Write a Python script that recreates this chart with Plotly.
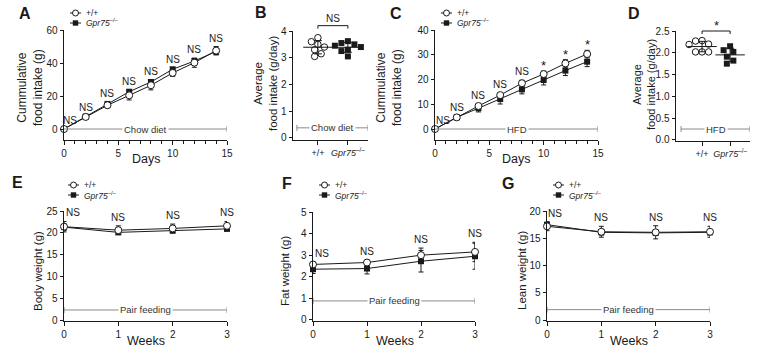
import numpy as np
import plotly.graph_objects as go

W, H = 768, 349
FONT = "Liberation Sans, Arial, Helvetica, sans-serif"
INK = "#1a1a1a"
GRAY = "#8a8a8a"

# ---------------- data ----------------
days = [0, 2, 4, 6, 8, 10, 12, 14]
chow_wt = [0, 7.3, 14.4, 20.4, 26.5, 34.0, 40.2, 47.5]
chow_wt_err = [0, 0.8, 1.5, 2.8, 2.8, 2.2, 2.8, 2.5]
chow_ko = [0, 7.5, 15.2, 22.6, 28.5, 36.2, 41.2, 47.0]
chow_ko_err = [0, 0.5, 1.0, 1.2, 1.0, 1.0, 1.5, 2.0]
chow_sig = ["NS", "NS", "NS", "NS", "NS", "NS", "NS", "NS"]

avg_chow_wt = [3.75, 3.6, 3.5, 3.4, 3.3, 3.15, 3.05]
avg_chow_ko = [3.62, 3.55, 3.5, 3.45, 3.4, 3.3, 3.25, 3.05]
avg_chow_sig = "NS"

hfd_wt = [0, 4.7, 9.3, 13.7, 18.5, 22.2, 26.5, 30.3]
hfd_wt_err = [0, 0.4, 1.0, 1.0, 1.2, 1.2, 1.5, 1.5]
hfd_ko = [0, 4.7, 8.4, 12.1, 16.0, 19.8, 23.6, 27.2]
hfd_ko_err = [0, 0.4, 1.5, 2.0, 1.8, 2.0, 2.0, 2.0]
hfd_sig = ["NS", "NS", "NS", "NS", "NS", "*", "*", "*"]

avg_hfd_wt = [2.28, 2.27, 2.2, 2.19, 2.02, 2.02, 2.02]
avg_hfd_ko = [2.15, 2.06, 2.02, 1.91, 1.82, 1.75]
avg_hfd_sig = "*"

weeks = [0, 1, 2, 3]
bw_wt = [21.4, 20.6, 21.0, 21.6]
bw_wt_err = [1.2, 1.0, 1.0, 1.0]
bw_ko = [21.3, 20.1, 20.5, 20.9]
bw_ko_err = [0.8, 0.5, 0.5, 0.5]
fat_wt = [2.57, 2.66, 3.0, 3.15]
fat_wt_err = [0.1, 0.1, 0.33, 0.45]
fat_ko = [2.35, 2.38, 2.72, 2.95]
fat_ko_err = [0.2, 0.25, 0.5, 0.6]
lean_wt = [17.2, 16.2, 16.1, 16.2]
lean_wt_err = [0.8, 1.0, 1.2, 1.0]
lean_ko = [17.5, 16.1, 16.0, 16.1]
lean_ko_err = [0.5, 0.5, 0.5, 0.5]
pair_sig = ["NS", "NS", "NS", "NS"]

group_labels = ["+/+", "<i>Gpr75</i><sup>–/–</sup>"]

# ---------------- panel geometry (pixels) ----------------
PANELS = {
    "A": dict(ax=1, x0=64, x1=227, y0=30, y1=140, xr=[0, 15], yr=[-6.67, 60], xd=5, yd=20, minor=True),
    "B": dict(ax=2, x0=293, x1=368, y0=31, y1=140, xr=[0.17, 2.67], yr=[-0.075, 4], yd=1),
    "C": dict(ax=3, x0=435, x1=598, y0=30, y1=140, xr=[0, 15], yr=[-4.44, 40], xd=5, yd=10, minor=True),
    "D": dict(ax=4, x0=676, x1=750, y0=31, y1=141, xr=[0.07, 2.71], yr=[-0.025, 2.5], yd=0.5, yfmt=".1f"),
    "E": dict(ax=5, x0=64, x1=227, y0=211, y1=321, xr=[0, 3], yr=[-0.23, 25], xd=1, yd=5),
    "F": dict(ax=6, x0=313, x1=475, y0=212, y1=321, xr=[0, 3], yr=[-0.05, 5], xd=1, yd=1),
    "G": dict(ax=7, x0=547, x1=710, y0=211, y1=321, xr=[0, 3], yr=[-0.13, 20], xd=1, yd=5),
}

fig = go.Figure()


def names(n):
    return ("x" if n == 1 else f"x{n}", "y" if n == 1 else f"y{n}")


def pxx(v):
    return v / W


def pxy(v):
    return 1 - v / H


def data_px_x(p, v):
    return p["x0"] + (v - p["xr"][0]) / (p["xr"][1] - p["xr"][0]) * (p["x1"] - p["x0"])


def data_px_y(p, v):
    return p["y1"] - (v - p["yr"][0]) / (p["yr"][1] - p["yr"][0]) * (p["y1"] - p["y0"])


tickfont = dict(size=10, color=INK, family=FONT)
layout_axes = {}
for key, p in PANELS.items():
    n = p["ax"]
    xn, yn = names(n)
    xa = dict(domain=[pxx(p["x0"]), pxx(p["x1"])], range=p["xr"], anchor=yn,
              showline=True, linecolor=INK, linewidth=1, ticks="outside", ticklen=4,
              tickwidth=1, tickcolor=INK, showgrid=False, zeroline=False, automargin=False,
              tickfont=tickfont, fixedrange=True)
    if "xd" in p:
        xa.update(tickmode="linear", tick0=0, dtick=p["xd"])
    else:
        xa.update(tickmode="array", tickvals=[1, 2], ticktext=group_labels,
                  tickfont=dict(size=9, color=INK, family=FONT))
    if p.get("minor"):
        xa["minor"] = dict(dtick=1, tick0=0, ticks="outside", ticklen=2.5, tickwidth=1,
                           tickcolor=INK, showgrid=False)
    ya = dict(domain=[pxy(p["y1"]), pxy(p["y0"])], range=p["yr"], anchor=xn,
              showline=True, linecolor=INK, linewidth=1, ticks="outside", ticklen=3.5,
              tickwidth=1, tickcolor=INK, showgrid=False, zeroline=False, automargin=False,
              tickfont=tickfont, tickmode="linear", tick0=0, dtick=p["yd"], fixedrange=True)
    if "yfmt" in p:
        ya["tickformat"] = p["yfmt"]
    layout_axes["xaxis" if n == 1 else f"xaxis{n}"] = xa
    layout_axes["yaxis" if n == 1 else f"yaxis{n}"] = ya

shapes = []
annots = []


def add_series(p, xs, wt, wte, ko, koe, sig, first_shift):
    xn, yn = names(p["ax"])
    fig.add_trace(go.Scatter(
        x=xs, y=ko, xaxis=xn, yaxis=yn, mode="lines+markers",
        line=dict(color=INK, width=1),
        marker=dict(symbol="square", size=6, color=INK, line=dict(width=0)),
        error_y=dict(type="data", array=koe, color=INK, thickness=1, width=2.5),
        cliponaxis=False, showlegend=False, hoverinfo="skip"))
    fig.add_trace(go.Scatter(
        x=xs, y=wt, xaxis=xn, yaxis=yn, mode="lines+markers",
        line=dict(color=INK, width=1),
        marker=dict(symbol="circle", size=7, color="white", line=dict(width=1, color=INK)),
        error_y=dict(type="data", array=wte, color=INK, thickness=1, width=2.5),
        cliponaxis=False, showlegend=False, hoverinfo="skip"))
    for i, x in enumerate(xs):
        top = max(wt[i] + wte[i], ko[i] + koe[i])
        star = sig[i] == "*"
        annots.append(dict(x=x, y=top, xref=xn, yref=yn, text=sig[i], showarrow=False,
                           xanchor="center", yanchor="bottom", yshift=(-4 if star else 1),
                           xshift=(first_shift if i == 0 else 0),
                           font=dict(size=(13 if star else 10), color=INK, family=FONT)))


def add_diet(p, label, level, span, caps):
    xn, yn = names(p["ax"])
    shapes.append(dict(type="line", xref=xn, yref=yn, x0=span[0], x1=span[1], y0=level, y1=level,
                       line=dict(color=GRAY, width=1)))
    for c in caps:
        shapes.append(dict(type="line", xref=xn, yref=yn, ysizemode="pixel", yanchor=level,
                           x0=c, x1=c, y0=-3, y1=3, line=dict(color=GRAY, width=1)))
    annots.append(dict(x=(span[0] + span[1]) / 2, y=level, xref=xn, yref=yn, text=label,
                       showarrow=False, bgcolor="white", borderpad=1,
                       xanchor="center", yanchor="middle",
                       font=dict(size=9.5, color="#333", family=FONT)))


def swarm_offsets(vals, p, diam):
    kx = (p["x1"] - p["x0"]) / (p["xr"][1] - p["xr"][0])
    ky = (p["y1"] - p["y0"]) / (p["yr"][1] - p["yr"][0])
    placed, out = [], []
    for v in vals:
        yp = v * ky
        for s in [0, -1, 1, -2, 2, -3, 3, -4, 4]:
            xp = s * diam * 0.5
            if all((xp - a) ** 2 + (yp - b) ** 2 >= (diam * 0.95) ** 2 for a, b in placed):
                break
        placed.append((xp, yp))
        out.append(xp / kx)
    return out


def add_dots(p, wt, ko, sig, bracket_level):
    xn, yn = names(p["ax"])
    for gi, (vals, sym, fill) in enumerate([(wt, "circle", "white"), (ko, "square", INK)]):
        offs = swarm_offsets(vals, p, 6.5)
        fig.add_trace(go.Scatter(
            x=[gi + 1 + o for o in offs], y=vals, xaxis=xn, yaxis=yn, mode="markers",
            marker=dict(symbol=sym, size=(6.5 if sym == "circle" else 6), color=fill,
                        line=dict(width=1 if sym == "circle" else 0, color=INK)),
            cliponaxis=False, showlegend=False, hoverinfo="skip"))
        m, sd = float(np.mean(vals)), float(np.std(vals, ddof=1))
        fig.add_trace(go.Scatter(
            x=[gi + 1], y=[m], xaxis=xn, yaxis=yn, mode="markers",
            marker=dict(symbol="line-ew", size=21, color=INK, line=dict(width=1, color=INK)),
            error_y=dict(type="data", array=[sd], color=INK, thickness=1, width=4),
            cliponaxis=False, showlegend=False, hoverinfo="skip"))
    # significance bracket (above axis, paper coords)
    yb = data_px_y(p, bracket_level)
    xa_, xb_ = data_px_x(p, 1), data_px_x(p, 2)
    shapes.append(dict(type="path", xref="paper", yref="paper",
                       path=f"M {pxx(xa_)},{pxy(yb + 3)} L {pxx(xa_)},{pxy(yb)} L {pxx(xb_)},{pxy(yb)} L {pxx(xb_)},{pxy(yb + 3)}",
                       line=dict(color=INK, width=1)))
    star = sig == "*"
    annots.append(dict(x=pxx((xa_ + xb_) / 2), y=pxy(yb), xref="paper", yref="paper", text=sig,
                       showarrow=False, xanchor="center", yanchor="bottom", yshift=(-4 if star else 0),
                       font=dict(size=(13 if star else 10), color=INK, family=FONT)))


def add_legend(lx, ly):
    for row, (sym, label) in enumerate([("circle", group_labels[0]), ("square", group_labels[1])]):
        y = ly + row * 10
        shapes.append(dict(type="line", xref="paper", yref="paper", x0=pxx(lx), x1=pxx(lx + 11),
                           y0=pxy(y), y1=pxy(y), line=dict(color=INK, width=1)))
        cx = lx + 5.5
        if sym == "circle":
            shapes.append(dict(type="circle", xref="paper", yref="paper", x0=pxx(cx - 3), x1=pxx(cx + 3),
                               y0=pxy(y + 3), y1=pxy(y - 3), fillcolor="white", line=dict(color=INK, width=1)))
        else:
            shapes.append(dict(type="rect", xref="paper", yref="paper", x0=pxx(cx - 2.7), x1=pxx(cx + 2.7),
                               y0=pxy(y + 2.7), y1=pxy(y - 2.7), fillcolor=INK, line=dict(width=0)))
        annots.append(dict(x=pxx(lx + 14), y=pxy(y), xref="paper", yref="paper", text=label,
                           xanchor="left", yanchor="middle", showarrow=False,
                           font=dict(size=8.5, color=INK, family=FONT)))


def text_px(x, y, text, size, angle=0, bold=False):
    annots.append(dict(x=pxx(x), y=pxy(y), xref="paper", yref="paper", text=(f"<b>{text}</b>" if bold else text),
                       xanchor="center", yanchor="middle",
                       showarrow=False, textangle=angle, font=dict(size=size, color=INK, family=FONT)))


# ---- panels ----
A, B, C, D, E, F, G = (PANELS[k] for k in "ABCDEFG")
add_diet(A, "Chow diet", 0, [0, 15], [15])
add_series(A, days, chow_wt, chow_wt_err, chow_ko, chow_ko_err, chow_sig, 6)
add_diet(B, "Chow diet", 0.38, [0.3, 2.67], [0.3, 2.67])
add_dots(B, avg_chow_wt, avg_chow_ko, avg_chow_sig, 4.2)
add_diet(C, "HFD", 0, [0, 15], [15])
add_series(C, days, hfd_wt, hfd_wt_err, hfd_ko, hfd_ko_err, hfd_sig, 8)
add_diet(D, "HFD", 0.25, [0.25, 2.71], [0.25, 2.71])
add_dots(D, avg_hfd_wt, avg_hfd_ko, avg_hfd_sig, 2.5)
add_diet(E, "Pair feeding", 2.3, [0, 3], [0, 3])
add_series(E, weeks, bw_wt, bw_wt_err, bw_ko, bw_ko_err, pair_sig, 9)
add_diet(F, "Pair feeding", 0.88, [0, 3], [0, 3])
add_series(F, weeks, fat_wt, fat_wt_err, fat_ko, fat_ko_err, pair_sig, 9)
add_diet(G, "Pair feeding", 1.95, [0, 3], [0, 3])
add_series(G, weeks, lean_wt, lean_wt_err, lean_ko, lean_ko_err, pair_sig, 8)

# legends
add_legend(70, 13)
add_legend(441, 13)
add_legend(68, 185)
add_legend(319, 185)
add_legend(553, 185)

# panel letters
for letter, (x, y) in {"A": (25, 13), "B": (261, 12), "C": (396, 13), "D": (634, 13),
                       "E": (17, 183), "F": (287, 184), "G": (508, 184)}.items():
    text_px(x, y, letter, 16, bold=True)

# axis titles
text_px(30, 88, "Cummulative<br>food intake (g)", 12, angle=-90)
text_px(266, 84, "Average<br>food intake (g/day)", 11.5, angle=-90)
text_px(389, 88, "Cummulative<br>food intake (g)", 12, angle=-90)
text_px(644, 85, "Average<br>food intake (g/day)", 11, angle=-90)
text_px(38, 271, "Body weight (g)", 11.5, angle=-90)
text_px(285, 271, "Fat weight (g)", 11.5, angle=-90)
text_px(522, 271, "Lean weight (g)", 11.5, angle=-90)
text_px(146, 159, "Days", 12.5)
text_px(516, 159, "Days", 12.5)
text_px(146, 341, "Weeks", 12.5)
text_px(395, 341, "Weeks", 12.5)
text_px(629, 341, "Weeks", 12.5)

fig.update_layout(width=W, height=H, margin=dict(l=0, r=0, t=0, b=0, autoexpand=False),
                  paper_bgcolor="white", plot_bgcolor="rgba(0,0,0,0)",
                  font=dict(family=FONT, color=INK), showlegend=False,
                  shapes=shapes, annotations=annots, **layout_axes)
fig.write_html("out.html", config={"displayModeBar": False},
               post_script="document.body.style.margin='0';document.body.style.overflow='hidden';")
